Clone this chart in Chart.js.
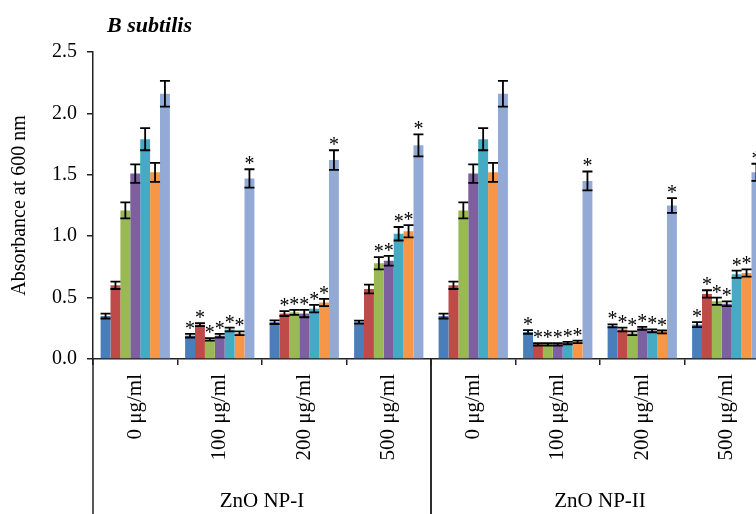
<!DOCTYPE html>
<html>
<head>
<meta charset="UTF-8">
<title>B subtilis</title>
<script src="https://cdn.jsdelivr.net/npm/chart.js"></script>
<style>
  html, body { margin: 0; padding: 0; background: #fff; overflow: hidden; width: 756px; height: 514px; }
  #wrap { width: 780px; height: 514px; position: relative; }
</style>
</head>
<body>
<div id="wrap"><canvas id="absChart"></canvas></div>
<script>
// categories (two nanoparticle groups x four concentrations)
const concentrations = ['0 μg/ml', '100 μg/ml', '200 μg/ml', '500 μg/ml', '0 μg/ml', '100 μg/ml', '200 μg/ml', '500 μg/ml'];
const groupLabels = ['ZnO NP-I', 'ZnO NP-II'];
const groupSize = 4;
const yTicks = [0, 0.5, 1.0, 1.5, 2.0, 2.5];

// absorbance values per series
const series1 = [0.35, 0.19, 0.30, 0.30, 0.35, 0.22, 0.27, 0.28];
const series2 = [0.60, 0.28, 0.37, 0.57, 0.60, 0.12, 0.24, 0.53];
const series3 = [1.21, 0.16, 0.38, 0.78, 1.21, 0.12, 0.21, 0.47];
const series4 = [1.51, 0.19, 0.37, 0.80, 1.51, 0.12, 0.25, 0.45];
const series5 = [1.79, 0.24, 0.41, 1.02, 1.79, 0.13, 0.23, 0.69];
const series6 = [1.52, 0.21, 0.46, 1.04, 1.52, 0.14, 0.22, 0.70];
const series7 = [2.16, 1.47, 1.62, 1.74, 2.16, 1.45, 1.25, 1.52];

// error bar half widths
const err1 = [0.02, 0.015, 0.015, 0.012, 0.02, 0.015, 0.012, 0.02];
const err2 = [0.03, 0.012, 0.02, 0.035, 0.03, 0.01, 0.015, 0.03];
const err3 = [0.065, 0.01, 0.02, 0.05, 0.065, 0.01, 0.015, 0.03];
const err4 = [0.075, 0.015, 0.03, 0.04, 0.075, 0.01, 0.012, 0.02];
const err5 = [0.09, 0.015, 0.03, 0.055, 0.09, 0.01, 0.012, 0.03];
const err6 = [0.077, 0.015, 0.03, 0.05, 0.077, 0.01, 0.012, 0.03];
const err7 = [0.105, 0.075, 0.08, 0.09, 0.105, 0.077, 0.06, 0.07];

// significance markers (1 = asterisk)
const sig1 = [0, 1, 0, 0, 0, 1, 1, 1];
const sig2 = [0, 1, 1, 0, 0, 1, 1, 1];
const sig3 = [0, 1, 1, 1, 0, 1, 1, 1];
const sig4 = [0, 1, 1, 1, 0, 1, 1, 1];
const sig5 = [0, 1, 1, 1, 0, 1, 1, 1];
const sig6 = [0, 1, 1, 1, 0, 1, 1, 1];
const sig7 = [0, 1, 1, 1, 0, 1, 1, 1];

const colors = ['#4A7EBB', '#BE4B48', '#98B954', '#7D60A0', '#46AAC5', '#F79646', '#93AAD6'];
const values = [series1, series2, series3, series4, series5, series6, series7];
const errors = [err1, err2, err3, err4, err5, err6, err7];
const sigs = [sig1, sig2, sig3, sig4, sig5, sig6, sig7];

const serif = "'Liberation Serif', 'Times New Roman', serif";
Chart.defaults.font.family = serif;
Chart.defaults.color = '#000';

// error bars + asterisks
const errorBarPlugin = {
    id: 'errorBars',
    afterDatasetsDraw(chart) {
        const ctx = chart.ctx;
        const y = chart.scales.y;
        ctx.save();
        ctx.strokeStyle = '#000';
        ctx.lineWidth = 1.8;
        ctx.fillStyle = '#000';
        ctx.font = '20px ' + serif;
        ctx.textAlign = 'center';
        ctx.textBaseline = 'alphabetic';
        values.forEach((vals, i) => {
            const meta = chart.getDatasetMeta(i);
            meta.data.forEach((bar, j) => {
                const top = y.getPixelForValue(vals[j] + errors[i][j]);
                const bot = y.getPixelForValue(vals[j] - errors[i][j]);
                const cap = 5;
                ctx.beginPath();
                ctx.moveTo(bar.x, top); ctx.lineTo(bar.x, bot);
                ctx.moveTo(bar.x - cap, top); ctx.lineTo(bar.x + cap, top);
                ctx.moveTo(bar.x - cap, bot); ctx.lineTo(bar.x + cap, bot);
                ctx.stroke();
                if (sigs[i][j]) {
                    ctx.fillText('*', bar.x, top + 1);
                }
            });
        });
        ctx.restore();
    }
};

// title + group labels below the category labels
const decorPlugin = {
    id: 'decor',
    afterDraw(chart) {
        const ctx = chart.ctx;
        const x = chart.scales.x;
        const area = chart.chartArea;
        const h = chart.height;
        ctx.save();
        ctx.fillStyle = '#000';
        ctx.font = 'italic bold 22px ' + serif;
        ctx.textAlign = 'left';
        ctx.textBaseline = 'middle';
        ctx.fillText('B subtilis', area.left + 14, 26);

        ctx.strokeStyle = '#222';
        ctx.lineWidth = 1.5;
        const step = x.getPixelForValue(1) - x.getPixelForValue(0);
        ctx.font = '21px ' + serif;
        ctx.textAlign = 'center';
        groupLabels.forEach((lbl, g) => {
            const first = g * groupSize;
            const left = x.getPixelForValue(first) - step / 2;
            const right = x.getPixelForValue(first + groupSize - 1) + step / 2;
            ctx.beginPath();
            ctx.moveTo(left, area.bottom); ctx.lineTo(left, h);
            ctx.moveTo(right, area.bottom); ctx.lineTo(right, h);
            ctx.stroke();
            ctx.fillText(lbl, (left + right) / 2, 501);
        });
        ctx.restore();
    }
};

new Chart(document.getElementById('absChart'), {
    type: 'bar',
    data: {
        labels: concentrations,
        datasets: values.map((vals, i) => ({
            label: 'Series ' + (i + 1),
            data: vals,
            backgroundColor: colors[i],
            borderWidth: 0,
            categoryPercentage: 0.82,
            barPercentage: 1.0
        }))
    },
    options: {
        responsive: true,
        maintainAspectRatio: false,
        animation: false,
        layout: { padding: { top: 52, right: 11, left: 0, bottom: 0 } },
        plugins: {
            legend: { display: false },
            tooltip: { enabled: false }
        },
        scales: {
            x: {
                afterFit(scale) { scale.height = 155; },
                grid: { display: true, drawOnChartArea: false, drawTicks: true, tickLength: 6, color: '#222', lineWidth: 1.5, offset: true },
                border: { color: '#222', width: 1.5 },
                ticks: { minRotation: 90, maxRotation: 90, padding: 9, font: { size: 21, family: serif }, color: '#000', autoSkip: false }
            },
            y: {
                min: 0,
                max: 2.5,
                afterFit(scale) { scale.width = 93; },
                afterBuildTicks(scale) { scale.ticks = yTicks.map(v => ({ value: v })); },
                grid: { display: true, drawOnChartArea: false, drawTicks: true, tickLength: 6, color: '#222', lineWidth: 1.5 },
                border: { color: '#222', width: 1.5 },
                ticks: {
                    padding: 10,
                    font: { size: 20, family: serif },
                    color: '#000',
                    callback: v => Number(v).toFixed(1)
                },
                title: {
                    display: true,
                    text: 'Absorbance at 600 nm',
                    font: { size: 20, family: serif },
                    color: '#000',
                    padding: { top: 8, bottom: 0 }
                }
            }
        }
    },
    plugins: [errorBarPlugin, decorPlugin]
});
</script>
</body>
</html>
